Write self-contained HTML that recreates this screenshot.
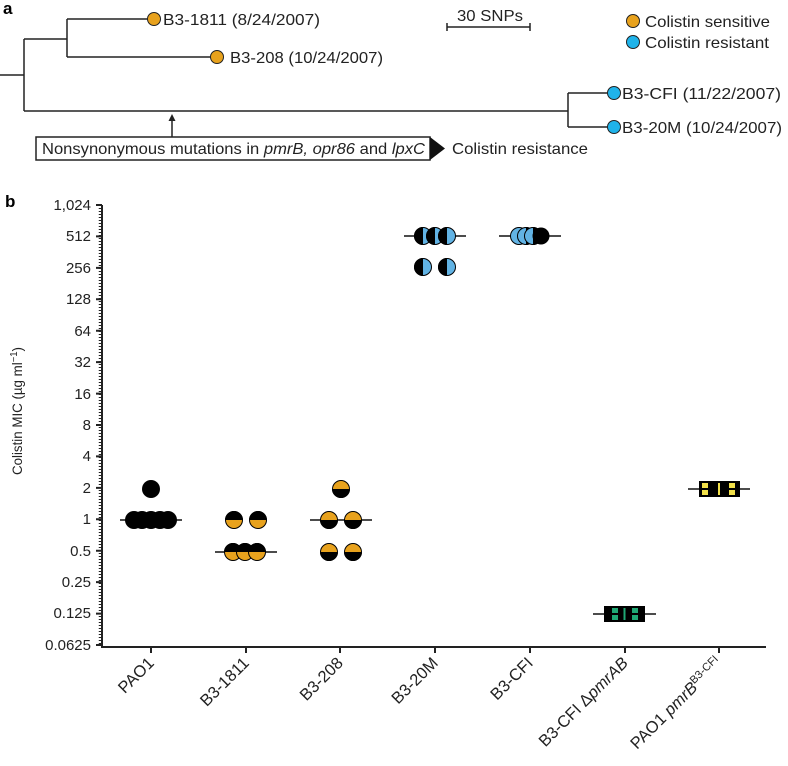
<!DOCTYPE html>
<html><head><meta charset="utf-8"><style>
html,body{margin:0;padding:0;background:#fff}
svg{display:block;font-family:"Liberation Sans",sans-serif}
</style></head><body>
<svg width="788" height="766" viewBox="0 0 788 766" xmlns="http://www.w3.org/2000/svg">
<!-- Panel a -->
<text x="3" y="14" font-size="17" font-weight="bold">a</text>
<g stroke="#222" stroke-width="1.5" fill="none">
<path d="M0 75H24M24 39V111M24 39H67M67 19V57M67 19H148M67 57H211M24 111H568M568 93V127M568 93H608M568 127H608"/>
<path d="M447 23V31M447 27H530M530 23V31"/>
<path d="M172 139V120"/>
</g>
<path d="M168.5 121L172 114L175.5 121Z" fill="#222"/>
<g stroke="#222" stroke-width="1">
<circle cx="154" cy="19" r="6.5" fill="#E8A21D"/>
<circle cx="217" cy="57" r="6.5" fill="#E8A21D"/>
<circle cx="614" cy="93" r="6.5" fill="#1FB3EA"/>
<circle cx="614" cy="127" r="6.5" fill="#1FB3EA"/>
<circle cx="633" cy="21" r="6.5" fill="#E8A21D"/>
<circle cx="633" cy="42" r="6.5" fill="#1FB3EA"/>
</g>
<g font-size="16" fill="#222">
<text x="163" y="25" textLength="157" lengthAdjust="spacingAndGlyphs">B3-1811 (8/24/2007)</text>
<text x="230" y="63" textLength="153" lengthAdjust="spacingAndGlyphs">B3-208 (10/24/2007)</text>
<text x="622" y="99" textLength="159" lengthAdjust="spacingAndGlyphs">B3-CFI (11/22/2007)</text>
<text x="622" y="133" textLength="160" lengthAdjust="spacingAndGlyphs">B3-20M (10/24/2007)</text>
<text x="457" y="21" textLength="66" lengthAdjust="spacingAndGlyphs">30 SNPs</text>
<text x="645" y="27" textLength="125" lengthAdjust="spacingAndGlyphs">Colistin sensitive</text>
<text x="645" y="48" textLength="124" lengthAdjust="spacingAndGlyphs">Colistin resistant</text>
<text x="452" y="154" textLength="136" lengthAdjust="spacingAndGlyphs">Colistin resistance</text>
</g>
<rect x="36" y="137" width="394" height="23" fill="#fff" stroke="#222" stroke-width="1.5"/>
<path d="M430 137L445 148.5L430 160Z" fill="#111"/>
<text x="42" y="154" font-size="16" fill="#222" textLength="383" lengthAdjust="spacingAndGlyphs">Nonsynonymous mutations in <tspan font-style="italic">pmrB, opr86</tspan> and <tspan font-style="italic">lpxC</tspan></text>

<!-- Panel b -->
<text x="5" y="207" font-size="17" font-weight="bold">b</text>
<g stroke="#222" stroke-width="2" fill="none">
<path d="M102 205V647M101 647H766"/>
<path d="M96 205H102M96 236.4H102M96 267.9H102M96 299.3H102M96 330.7H102M96 362.1H102M96 393.6H102M96 425H102M96 456.4H102M96 487.9H102M96 519.3H102M96 550.7H102M96 582.1H102M96 613.6H102M96 645H102"/>
<path d="M151 647V653M246 647V653M340 647V653M435 647V653M530 647V653M625 647V653M719 647V653"/>
</g>
<line x1="100" y1="205" x2="100" y2="645" stroke="#222" stroke-width="2.5" stroke-dasharray="1 2"/>
<g font-size="15" fill="#222" text-anchor="end">
<text x="91" y="210">1,024</text><text x="91" y="241">512</text><text x="91" y="273">256</text>
<text x="91" y="304">128</text><text x="91" y="336">64</text><text x="91" y="367">32</text>
<text x="91" y="399">16</text><text x="91" y="430">8</text><text x="91" y="461">4</text>
<text x="91" y="493">2</text><text x="91" y="524">1</text><text x="91" y="556">0.5</text>
<text x="91" y="587">0.25</text><text x="91" y="618">0.125</text><text x="91" y="650">0.0625</text>
</g>
<text transform="translate(22 411) rotate(-90)" font-size="14" text-anchor="middle" fill="#222" textLength="128" lengthAdjust="spacingAndGlyphs">Colistin MIC (µg ml<tspan font-size="10" dy="-5">−1</tspan><tspan dy="5">)</tspan></text>
<g font-size="16.5" fill="#222" text-anchor="end">
<text transform="translate(155 664) rotate(-45)">PAO1</text>
<text transform="translate(250 664) rotate(-45)">B3-1811</text>
<text transform="translate(344 664) rotate(-45)">B3-208</text>
<text transform="translate(439 664) rotate(-45)">B3-20M</text>
<text transform="translate(534 664) rotate(-45)">B3-CFI</text>
<text transform="translate(629 664) rotate(-45)">B3-CFI Δ<tspan font-style="italic">pmrAB</tspan></text>
<text transform="translate(723 664) rotate(-45)">PAO1 <tspan font-style="italic">pmrB</tspan><tspan font-size="11" dy="-6">B3-CFI</tspan></text>
</g>
<g stroke="#111" stroke-width="1.5">
<path d="M120 520H182M215 552H277M310 520H372M404 236H466M499 236H561M593 614H656M688 489H750"/>
</g>
<g fill="#000">
<circle cx="151" cy="489" r="9"/>
<circle cx="134" cy="520" r="9"/><circle cx="142" cy="520" r="9"/><circle cx="151" cy="520" r="9"/><circle cx="160" cy="520" r="9"/><circle cx="168" cy="520" r="9"/>
</g>
<g>
<g transform="translate(234 520)"><circle r="8.5" fill="#E8A21D" stroke="#000"/><path d="M-9 0A9 9 0 0 1 9 0Z" fill="#000"/></g>
<g transform="translate(258 520)"><circle r="8.5" fill="#E8A21D" stroke="#000"/><path d="M-9 0A9 9 0 0 1 9 0Z" fill="#000"/></g>
<g transform="translate(233 552)"><circle r="8.5" fill="#E8A21D" stroke="#000"/><path d="M-9 0A9 9 0 0 1 9 0Z" fill="#000"/></g>
<g transform="translate(245 552)"><circle r="8.5" fill="#E8A21D" stroke="#000"/><path d="M-9 0A9 9 0 0 1 9 0Z" fill="#000"/></g>
<g transform="translate(257 552)"><circle r="8.5" fill="#E8A21D" stroke="#000"/><path d="M-9 0A9 9 0 0 1 9 0Z" fill="#000"/></g>
<g transform="translate(341 489)"><circle r="8.5" fill="#E8A21D" stroke="#000"/><path d="M-9 0A9 9 0 0 0 9 0Z" fill="#000"/></g>
<g transform="translate(329 520)"><circle r="8.5" fill="#E8A21D" stroke="#000"/><path d="M-9 0A9 9 0 0 0 9 0Z" fill="#000"/></g>
<g transform="translate(353 520)"><circle r="8.5" fill="#E8A21D" stroke="#000"/><path d="M-9 0A9 9 0 0 0 9 0Z" fill="#000"/></g>
<g transform="translate(329 552)"><circle r="8.5" fill="#E8A21D" stroke="#000"/><path d="M-9 0A9 9 0 0 0 9 0Z" fill="#000"/></g>
<g transform="translate(353 552)"><circle r="8.5" fill="#E8A21D" stroke="#000"/><path d="M-9 0A9 9 0 0 0 9 0Z" fill="#000"/></g>
<g transform="translate(423 236)"><circle r="8.5" fill="#62B3E4" stroke="#000"/><path d="M0 -9A9 9 0 0 0 0 9Z" fill="#000"/></g>
<g transform="translate(435 236)"><circle r="8.5" fill="#62B3E4" stroke="#000"/><path d="M0 -9A9 9 0 0 0 0 9Z" fill="#000"/></g>
<g transform="translate(447 236)"><circle r="8.5" fill="#62B3E4" stroke="#000"/><path d="M0 -9A9 9 0 0 0 0 9Z" fill="#000"/></g>
<g transform="translate(423 267)"><circle r="8.5" fill="#62B3E4" stroke="#000"/><path d="M0 -9A9 9 0 0 0 0 9Z" fill="#000"/></g>
<g transform="translate(447 267)"><circle r="8.5" fill="#62B3E4" stroke="#000"/><path d="M0 -9A9 9 0 0 0 0 9Z" fill="#000"/></g>
<g transform="translate(519 236)"><circle r="8.5" fill="#62B3E4" stroke="#000"/></g>
<g transform="translate(526 236)"><circle r="8.5" fill="#62B3E4" stroke="#000"/><path d="M0 -9A9 9 0 0 1 0 9Z" fill="#000"/></g>
<g transform="translate(533 236)"><circle r="8.5" fill="#62B3E4" stroke="#000"/><path d="M0 -9A9 9 0 0 1 0 9Z" fill="#000"/></g>
<g transform="translate(541 236)"><circle r="8.5" fill="#000"/></g>
</g>
<rect x="604" y="606" width="41" height="16" fill="#000"/>
<g fill="#1FA874">
<rect x="612" y="608" width="6" height="5"/><rect x="612" y="615" width="6" height="5"/>
<rect x="623.5" y="608" width="2" height="12"/>
<rect x="632" y="608" width="6" height="5"/><rect x="632" y="615" width="6" height="5"/>
</g>
<rect x="699" y="481" width="41" height="16" fill="#000"/>
<g fill="#F1E04A">
<rect x="702" y="483" width="6" height="5"/><rect x="702" y="490" width="6" height="5"/>
<rect x="718" y="483" width="2" height="12"/>
<rect x="729" y="483" width="6" height="5"/><rect x="729" y="490" width="6" height="5"/>
</g>
</svg>
</body></html>
